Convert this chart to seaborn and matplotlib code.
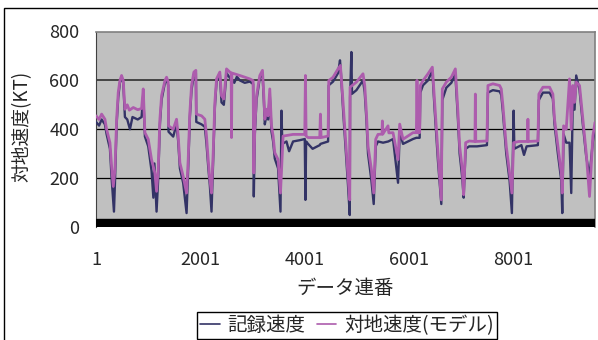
import numpy as np
import pandas as pd
import matplotlib
matplotlib.use("Agg")
import matplotlib.pyplot as plt
import seaborn as sns
from matplotlib.patches import Rectangle

# Key points (data index, speed in KT)
model_idx = [1, 60, 109, 172, 204, 268, 300, 332, 364, 396, 427, 459, 491, 523, 555, 600, 640, 715, 800, 874,
             906, 938, 1002, 1065, 1129, 1161, 1193, 1225, 1257, 1321, 1353, 1384, 1390, 1480, 1544, 1576, 1608,
             1671, 1736, 1767, 1799, 1831, 1876, 1914, 1922, 2023, 2086, 2118, 2150, 2182, 2214, 2246, 2278, 2310,
             2373, 2405, 2450, 2501, 2565, 2590, 2597, 2604, 2756, 2948, 3011, 3024, 3043, 3076, 3139, 3190, 3216,
             3235, 3267, 3298, 3330, 3363, 3394, 3426, 3489, 3535, 3585, 3776, 4000, 4013, 4026, 4064, 4287, 4300,
             4313, 4447, 4460, 4542, 4638, 4683, 4734, 4798, 4829, 4862, 4868, 4990, 5116, 5149, 5181, 5212, 5277,
             5321, 5359, 5403, 5480, 5487, 5495, 5595, 5610, 5691, 5787, 5819, 5882, 6073, 6138, 6150, 6162, 6201,
             6214, 6265, 6361, 6444, 6488, 6552, 6616, 6635, 6712, 6808, 6885, 6935, 6967, 7018, 7044, 7082, 7150,
             7260, 7268, 7276, 7490, 7509, 7604, 7733, 7765, 7796, 7860, 7924, 7968, 8001, 8100, 8268, 8275, 8282,
             8466, 8485, 8562, 8690, 8753, 8785, 8849, 8914, 8933, 8958, 9009, 9072, 9105, 9136, 9168, 9200, 9264,
             9327, 9391, 9455, 9519, 9560]
model_val = [455, 440, 462, 441, 400, 345, 249, 166, 235, 441, 551, 599, 620, 599, 482, 500, 478, 489, 480, 485,
             565, 386, 359, 276, 221, 146, 235, 441, 537, 599, 613, 593, 414, 400, 441, 372, 263,
             207, 139, 276, 469, 579, 634, 641, 462, 455, 441, 372, 276, 194, 139, 304, 510, 606,
             634, 537, 524, 647, 634, 630, 366, 630, 620, 606, 599, 221, 400, 537, 620, 641, 537,
             441, 482, 455, 565, 414, 372, 304, 276, 139, 372, 379, 379, 620, 372, 366, 366, 462,
             366, 372, 599, 613, 647, 661, 510, 304, 207, 111, 572, 593, 627, 579, 469, 331, 235,
             139, 359, 379, 380, 434, 380, 414, 385, 386, 276, 421, 359, 386, 386, 600, 386, 386,
             579, 599, 627, 654, 510, 304, 111, 565, 593, 613, 647, 469, 331, 235, 132, 345, 352,
             350, 544, 350, 352, 579, 586, 579, 565, 496, 331, 221, 139, 345, 350, 350, 441, 350,
             352, 544, 572, 572, 544, 441, 331, 221, 139, 414, 400, 606, 400, 579, 510, 593, 579,
             441, 304, 125, 372, 428]

record_idx = [1, 60, 109, 172, 204, 268, 300, 345, 364, 396, 427, 459, 491, 523, 555, 600, 651, 700, 800, 874,
              906, 938, 1002, 1065, 1100, 1120, 1161, 1193, 1225, 1257, 1321, 1353, 1384, 1390, 1480, 1544, 1576,
              1608, 1671, 1736, 1767, 1799, 1831, 1876, 1914, 1922, 2023, 2086, 2118, 2150, 2182, 2214, 2246, 2278,
              2310, 2373, 2405, 2450, 2501, 2565, 2650, 2700, 2756, 2850, 2948, 3011, 3024, 3043, 3076, 3139, 3190,
              3216, 3235, 3267, 3298, 3330, 3363, 3394, 3426, 3489, 3535, 3554, 3570, 3650, 3700, 3776, 3900, 4000,
              4013, 4026, 4064, 4150, 4287, 4300, 4447, 4460, 4542, 4638, 4675, 4690, 4734, 4798, 4829, 4862, 4868,
              4893, 4905, 4990, 5116, 5149, 5181, 5212, 5277, 5321, 5359, 5403, 5500, 5600, 5691, 5787, 5819, 5882,
              6073, 6138, 6201, 6214, 6265, 6361, 6444, 6488, 6552, 6616, 6635, 6712, 6808, 6885, 6935, 6967, 7018,
              7044, 7082, 7150, 7300, 7490, 7509, 7604, 7733, 7765, 7796, 7860, 7924, 7968, 8001, 8015, 8150, 8200,
              8250, 8466, 8485, 8562, 8690, 8753, 8785, 8849, 8914, 8933, 8958, 9009, 9072, 9105, 9136, 9168, 9200,
              9264, 9327, 9391, 9455, 9519, 9560]
record_val = [430, 415, 440, 420, 380, 320, 200, 63, 180, 420, 530, 590, 615, 590, 450, 440, 400, 450, 440, 450,
              540, 370, 330, 230, 120, 260, 63, 200, 420, 520, 590, 605, 580, 390, 370, 420, 350,
              240, 180, 57, 240, 450, 560, 625, 630, 430, 420, 410, 340, 250, 170, 63, 280, 490,
              595, 625, 510, 500, 630, 610, 590, 615, 600, 590, 595, 585, 125, 380, 520, 610, 630,
              520, 420, 460, 440, 540, 390, 350, 280, 240, 63, 476, 340, 350, 310, 350, 355, 360,
              111, 350, 340, 320, 335, 340, 350, 580, 595, 630, 682, 640, 480, 270, 170, 49, 530,
              716, 545, 560, 600, 550, 440, 300, 190, 94, 330, 350, 345, 350, 360, 181, 390, 340,
              360, 365, 365, 550, 580, 600, 640, 480, 270, 94, 520, 570, 590, 625, 440, 300, 200,
              120, 320, 330, 330, 335, 550, 560, 555, 540, 470, 300, 190, 57, 476, 320, 335, 295,
              330, 335, 520, 550, 550, 525, 420, 300, 190, 57, 380, 345, 345, 139, 540, 480, 620,
              560, 420, 290, 207, 350, 410]

x_ticks = [1, 2001, 4001, 6001, 8001]
y_ticks = [0, 200, 400, 600, 800]

record_df = pd.DataFrame({"idx": record_idx, "speed": record_val})
model_df = pd.DataFrame({"idx": model_idx, "speed": model_val})

sns.set_style("white")
plt.rcParams["font.family"] = ["Noto Sans CJK JP", "DejaVu Sans"]

fig = plt.figure(figsize=(5.98, 3.4), dpi=100)
ax = fig.add_axes([96 / 598, 1 - 227 / 340, (595 - 96) / 598, (227 - 31.5) / 340])
ax.set_facecolor("#C0C0C0")

# outer chart border
fig.patches.append(Rectangle((4 / 598, -0.1), 1.2, (340 - 8) / 340 + 0.1, transform=fig.transFigure,
                             fill=False, edgecolor="black", linewidth=1.0))

for y in [200, 400, 600]:
    ax.axhline(y, color="black" if y != 600 else "#444444", lw=0.9 if y != 600 else 1.4, zorder=1)

sns.lineplot(data=record_df, x="idx", y="speed", ax=ax, color="#333366", lw=1.7,
             sort=False, estimator=None, label="記録速度", zorder=3)
sns.lineplot(data=model_df, x="idx", y="speed", ax=ax, color="#AD5CAD", lw=2.0,
             sort=False, estimator=None, label="対地速度(モデル)", zorder=4)

# dense category ticks show as a black band along the axis
ax.axhspan(0, 33, color="black", zorder=5)

ax.set_xlim(1, 9560)
ax.set_ylim(0, 800)
ax.set_xticks(x_ticks)
ax.set_xticklabels([str(t) for t in x_ticks], fontsize=13)
ax.set_yticks(y_ticks)
ax.set_yticklabels([str(t) for t in y_ticks], fontsize=13)
ax.tick_params(axis="x", length=0, pad=17)
ax.tick_params(axis="y", length=0, pad=12)

for side in ["top", "right"]:
    ax.spines[side].set_color("#808080")
    ax.spines[side].set_linewidth(1.2)
ax.spines["left"].set_color("#404040")
ax.spines["bottom"].set_visible(False)

ax.set_xlabel("")
ax.set_ylabel("")
fig.text(345 / 598, 1 - 289 / 340, "データ連番", ha="center", va="center", fontsize=14)
fig.text(22 / 598, 1 - 126 / 340, "対地速度(KT)", ha="center", va="center", rotation=90, fontsize=13.5)

handles, labels = ax.get_legend_handles_labels()
ax.get_legend().remove()
leg = fig.legend(handles, labels, loc="upper center", bbox_to_anchor=(347 / 598, 1 - 312 / 340), ncol=2,
                 frameon=True, fancybox=False, edgecolor="black", framealpha=1, fontsize=14,
                 handlelength=1.0, handletextpad=0.4, columnspacing=0.6, borderpad=0.15,
                 borderaxespad=0)
leg.get_frame().set_linewidth(1.0)
for line in leg.get_lines():
    line.set_linewidth(1.2)

fig.savefig("out.png", dpi=100)
